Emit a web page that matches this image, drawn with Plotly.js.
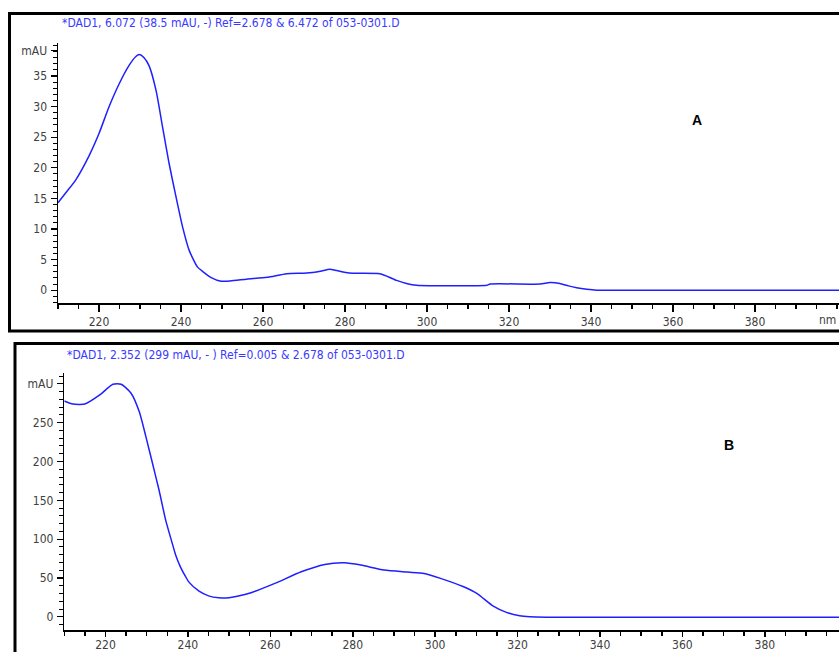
<!DOCTYPE html>
<html>
<head>
<meta charset="utf-8">
<script src="https://cdn.plot.ly/plotly-3.0.1.min.js"></script>
<style>html,body{margin:0;padding:0;background:#fff;}#chart{width:839px;height:652px;}</style>
</head>
<body>
<div id="chart"></div>
<script>
// Spectrum A
var wlA = [210,212,214.3,217.6,220,222.4,224.9,227.3,229,229.8,231,232.2,233.9,235.5,237.1,238.8,240.4,242,244,245.4,247.5,249.5,252,256,261,265.8,270.7,274,276.3,278,281,288.5,290.5,292.6,295,297.5,314.6,315.4,327.6,330,332.4,334.5,336.5,339,341.4,345,360,380,400.5];
var absA = [14.3,16,18.0,22,25.6,29.9,33.7,36.7,38.2,38.5,38,36.7,32.7,26.7,20.7,15.2,10.3,6.5,3.8,3.0,2.0,1.5,1.5,1.8,2.1,2.7,2.8,3.1,3.4,3.2,2.8,2.7,2.2,1.6,1.1,0.8,0.8,1.0,1.0,1.25,1.1,0.7,0.4,0.15,0,0,0,0,0];
// Spectrum B
var wlB = [210,212.1,215,218.6,221.8,223.8,226.2,228.2,229.8,231.4,233,234.6,236.2,237,238.2,239.4,240.2,242.7,245,247.5,249.9,252.5,255.5,261.1,267.5,273.2,278,282,287.6,293.3,297.3,301.3,306.9,310.1,314.1,317.3,320.5,323,327,340,360,380,398];
var absB = [278,274,274,285.7,299.5,299.5,288,264,232,197.7,163,124.6,94.6,80,64,52,45,33,27,24.5,24.5,27,31.4,43,58,67.5,69.6,66.6,60.2,57.6,55.9,49.5,38.7,30.2,13.8,5.7,1.3,0,-0.5,-0.5,-0.5,-0.5,-0.5];

var xTickVals = [220,240,260,280,300,320,340,360,380];
var xTickText = ['220','240','260','280','300','320','340','360','380'];
var xUnitLabel = 'nm';
var xUnitPos = 397.8;
var yTickValsA = [0,5,10,15,20,25,30,35,39.2];
var yTickTextA = ['0','5','10','15','20','25','30','35','mAU'];
var yTickValsB = [0,50,100,150,200,250,300];
var yTickTextB = ['0','50','100','150','200','250','mAU'];

var titleA = '*DAD1, 6.072 (38.5 mAU, -) Ref=2.678 & 6.472 of 053-0301.D';
var titleB = '*DAD1, 2.352 (299 mAU, - ) Ref=0.005 & 2.678 of 053-0301.D';

var W = 839, H = 652;
function px(x){return x/W;}
function py(y){return 1 - y/H;}

var narrow = 'Liberation Sans Narrow, Arial Narrow, DejaVu Sans Condensed, sans-serif';
var tickFont = {family:narrow, size:12, color:'#404040'};
var lineColor = '#1f1fff';

var traces = [
  {x: wlA, y: absA, xaxis:'x', yaxis:'y', mode:'lines', line:{color:lineColor, width:1.5, shape:'spline', smoothing:0.6}, hoverinfo:'skip'},
  {x: wlB, y: absB, xaxis:'x2', yaxis:'y2', mode:'lines', line:{color:lineColor, width:1.5, shape:'spline', smoothing:0.6}, hoverinfo:'skip'}
];

function xaxisDef(domL, rng, anchor, tl, so){
  return {domain:[px(domL),1], range:rng, anchor:anchor, showline:true, linecolor:'#000', linewidth:1.5,
    ticks:'outside', ticklen:tl, tickwidth:1.5, tickcolor:'#000', tickvals:xTickVals, ticktext:xTickText,
    tickfont:tickFont, showgrid:false, zeroline:false, fixedrange:true, ticklabelstandoff:so,
    minor:{dtick:5, tick0:0, ticks:'outside', ticklen:4, tickwidth:1.5, tickcolor:'#000', showgrid:false}};
}
function yaxisDef(top, bot, rng, vals, txt, anchor, mdt){
  return {domain:[py(bot), py(top)], range:rng, anchor:anchor, showline:true, linecolor:'#000', linewidth:1.5,
    ticks:'outside', ticklen:6, tickwidth:1.2, tickcolor:'#000', tickvals:vals, ticktext:txt,
    tickfont:tickFont, showgrid:false, zeroline:false, fixedrange:true, ticklabelstandoff:1,
    minor:{dtick:mdt, tick0:0, ticks:'outside', ticklen:3.5, tickwidth:1, tickcolor:'#000', showgrid:false}};
}

var layout = {
  width:W, height:H, margin:{l:0,r:0,t:0,b:0}, paper_bgcolor:'#fff', plot_bgcolor:'#fff', showlegend:false,
  xaxis: xaxisDef(58, [210,400.5], 'y', 7, 0),
  yaxis: yaxisDef(43, 303, [-2.1,40.4], yTickValsA, yTickTextA, 'x', 1),
  xaxis2: xaxisDef(64.3, [210,398], 'y2', 5, -2),
  yaxis2: yaxisDef(373, 630, [-17,314], yTickValsB, yTickTextB, 'x2', 10),
  shapes:[
    {type:'rect', xref:'paper', yref:'paper', x0:px(9.5), x1:px(850), y0:py(331), y1:py(13.5), line:{color:'#000', width:3}, fillcolor:'rgba(0,0,0,0)'},
    {type:'rect', xref:'paper', yref:'paper', x0:px(15), x1:px(850), y0:py(670), y1:py(343.5), line:{color:'#000', width:3}, fillcolor:'rgba(0,0,0,0)'}
  ],
  annotations:[
    {text:titleA, xref:'paper', yref:'paper', x:px(231), y:py(23), xanchor:'center', yanchor:'middle', showarrow:false,
     font:{family:narrow, size:12, color:'#3a3aff'}},
    {text:titleB, xref:'paper', yref:'paper', x:px(236), y:py(355), xanchor:'center', yanchor:'middle', showarrow:false,
     font:{family:narrow, size:12, color:'#3a3aff'}},
    {text:xUnitLabel, xref:'x', yref:'paper', x:xUnitPos, y:py(320), xanchor:'center', yanchor:'middle', showarrow:false,
     font:tickFont},
    {text:'<b>A</b>', xref:'paper', yref:'paper', x:px(697), y:py(120), xanchor:'center', yanchor:'middle', showarrow:false,
     font:{family:'Liberation Sans, Arial, sans-serif', size:14, color:'#000'}},
    {text:'<b>B</b>', xref:'paper', yref:'paper', x:px(729), y:py(445), xanchor:'center', yanchor:'middle', showarrow:false,
     font:{family:'Liberation Sans, Arial, sans-serif', size:14, color:'#000'}}
  ]
};

Plotly.newPlot('chart', traces, layout, {staticPlot:true, displayModeBar:false});
</script>
</body>
</html>
